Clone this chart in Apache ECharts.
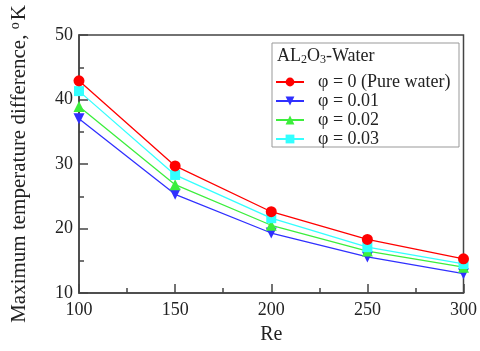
<!DOCTYPE html>
<html><head><meta charset="utf-8">
<script src="https://cdn.jsdelivr.net/npm/echarts@6/dist/echarts.min.js"></script>
<style>html,body{margin:0;padding:0;background:#fff}#c{width:480px;height:351px}</style>
</head><body><div id="c"></div>
<script>
var reynolds = [100, 150, 200, 250, 300];
var seriesNames = ['φ = 0 (Pure water)', 'φ = 0.01', 'φ = 0.02', 'φ = 0.03'];
var pureWater = [42.9, 29.7, 22.6, 18.3, 15.3];
var phi001 = [37.0, 25.3, 19.3, 15.6, 13.0];
var phi002 = [38.9, 26.8, 20.5, 16.5, 14.0];
var phi003 = [41.3, 28.3, 21.6, 17.1, 14.5];
var yTicks = [10, 20, 30, 40, 50];
var xTicks = [100, 150, 200, 250, 300];

var font = '"Liberation Serif","Times New Roman",serif';
function pairs(v){ return reynolds.map(function(x,i){ return [x, v[i]]; }); }
var colors = ['#ff0000', '#3030ff', '#3cee3c', '#33ffff'];
var symbols = ['circle', 'triangle', 'triangle', 'rect'];
var sizes = [11, 11, 11, 10];
var vals = [pureWater, phi001, phi002, phi003];
var series = vals.map(function(v, i){
  return {
    name: seriesNames[i], type: 'line', data: pairs(v),
    symbol: symbols[i], symbolSize: sizes[i], symbolRotate: i === 1 ? 180 : 0,
    lineStyle: {color: colors[i], width: 1.3},
    itemStyle: {color: colors[i]},
    z: i === 0 ? 5 : 2,
    animation: false
  };
});

var chart = echarts.init(document.getElementById('c'));
chart.setOption({
  backgroundColor: '#fff',
  animation: false,
  grid: {left: 78, right: 14, top: 35, bottom: 58, show: true, borderColor: '#444', borderWidth: 1.5, backgroundColor: 'transparent'},
  xAxis: {
    type: 'value', min: xTicks[0], max: xTicks[xTicks.length-1], interval: 50,
    name: 'Re', nameLocation: 'middle', nameGap: 32,
    nameTextStyle: {fontFamily: font, fontSize: 20, color: '#222'},
    axisLine: {lineStyle: {color: '#444', width: 1.5}},
    axisTick: {inside: true, length: 9, lineStyle: {color: '#444', width: 1.5}},
    minorTick: {show: true, splitNumber: 2, length: 5, lineStyle: {color: '#444', width: 1.5}},
    axisLabel: {fontFamily: font, fontSize: 18, color: '#222', margin: 8},
    splitLine: {show: false}
  },
  yAxis: {
    type: 'value', min: yTicks[0], max: yTicks[yTicks.length-1], interval: 10,
    name: 'Maximum temperature difference, {sup|o}K', nameLocation: 'middle', nameGap: 48, nameRotate: 90,
    nameTextStyle: {fontFamily: font, fontSize: 21, color: '#222', rich: {sup: {fontFamily: font, fontSize: 14, color: '#222', verticalAlign: 'top', padding: [0,2,9,0]}}},
    axisLine: {lineStyle: {color: '#444', width: 1.5}},
    axisTick: {inside: true, length: 9, lineStyle: {color: '#444', width: 1.5}},
    minorTick: {show: true, splitNumber: 2, length: 5, lineStyle: {color: '#444', width: 1.5}},
    axisLabel: {fontFamily: font, fontSize: 18, color: '#222', margin: 6},
    splitLine: {show: false}
  },
  legend: {
    orient: 'vertical', left: 270, top: 68, itemWidth: 28, itemHeight: 11, itemGap: 1,
    data: seriesNames,
    textStyle: {fontFamily: font, fontSize: 18, lineHeight: 18, color: '#222', padding: [0,0,0,9]}
  },
  graphic: [
    {type: 'rect', shape: {x: 272, y: 43, width: 187, height: 104}, style: {fill: '#fff', stroke: '#999', lineWidth: 1}, z: 0},
    {type: 'text', left: 277, top: 47, style: {
      text: 'AL{sub|2}O{sub|3}-Water', fontFamily: font, fontSize: 18, fill: '#222',
      rich: {sub: {fontFamily: font, fontSize: 12, fill: '#222', padding: [8,0,0,0]}}
    }, z: 1}
  ],
  series: series
});
</script></body></html>
